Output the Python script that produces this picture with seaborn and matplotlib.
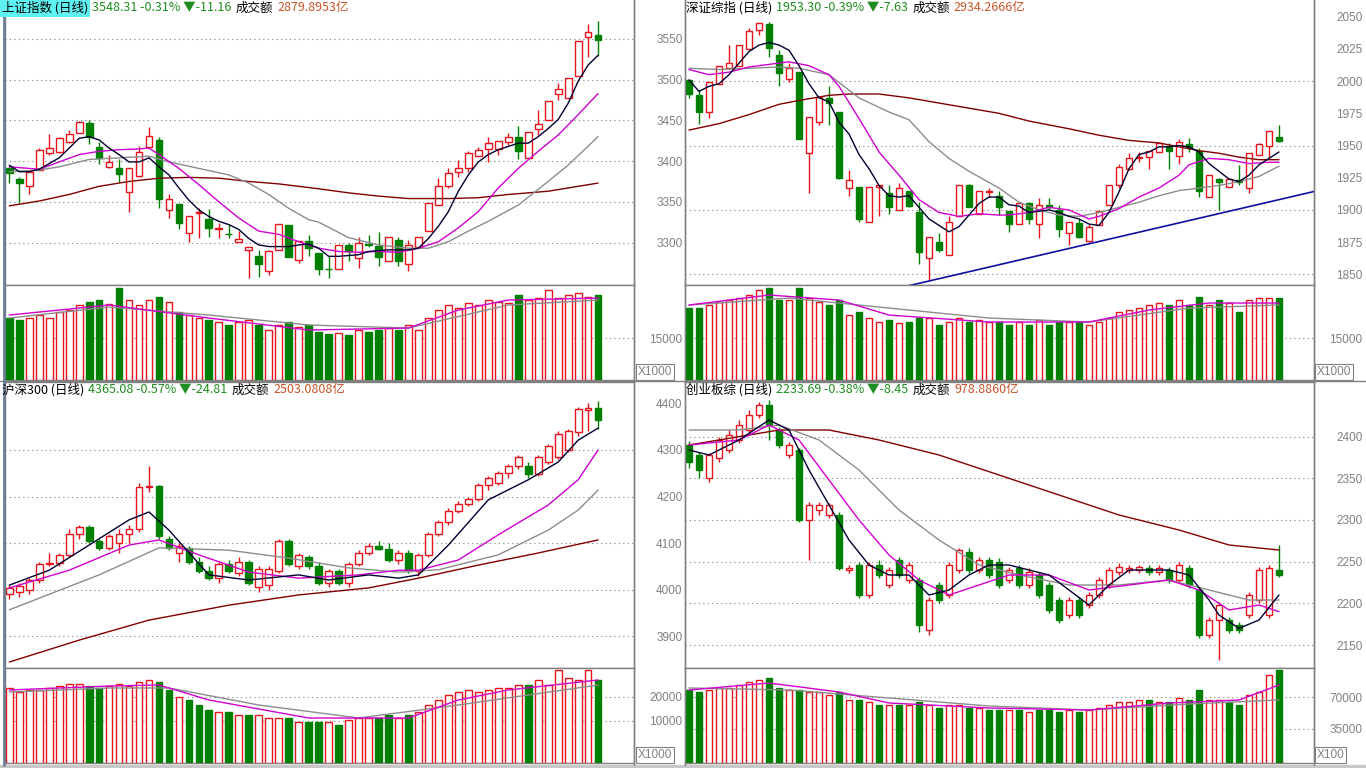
import matplotlib
matplotlib.use('Agg')
import matplotlib.pyplot as plt
import seaborn as sns
from matplotlib.lines import Line2D
from matplotlib.patches import Rectangle

sns.set_style('white')
plt.rcParams['font.family'] = ['Noto Sans CJK SC', 'DejaVu Sans']
plt.rcParams['axes.unicode_minus'] = False

W, H = 1366, 768
RED = '#E8141C'
GREEN = '#008000'
GRAY = '#808080'

# ---------------- 上证指数 ----------------  (open, high, low, close)
sh_ohlc = [
    (3391, 3393, 3373, 3385), (3378, 3381, 3348, 3373), (3369, 3389, 3359, 3387), (3389, 3416, 3389, 3414),
    (3410, 3433, 3408, 3416), (3411, 3430, 3410, 3428), (3423, 3438, 3422, 3433), (3435, 3449, 3435, 3448),
    (3447, 3451, 3421, 3430), (3417, 3423, 3397, 3404), (3393, 3408, 3391, 3399), (3392, 3403, 3374, 3384),
    (3362, 3392, 3338, 3392), (3382, 3418, 3381, 3411), (3417, 3442, 3416, 3431), (3426, 3429, 3343, 3353),
    (3340, 3359, 3330, 3353), (3347, 3347, 3316, 3324), (3312, 3333, 3301, 3333), (3336, 3342, 3306, 3337),
    (3329, 3341, 3307, 3318), (3316, 3324, 3305, 3318), (3311, 3323, 3306, 3310), (3301, 3314, 3301, 3304),
    (3291, 3294, 3256, 3294), (3284, 3291, 3258, 3273), (3265, 3291, 3260, 3290), (3291, 3323, 3291, 3323),
    (3321, 3321, 3282, 3282), (3279, 3302, 3275, 3302), (3302, 3309, 3284, 3293), (3287, 3287, 3260, 3267),
    (3268, 3283, 3256, 3267), (3267, 3297, 3267, 3297), (3297, 3300, 3277, 3289), (3281, 3307, 3269, 3300),
    (3298, 3309, 3295, 3297), (3296, 3313, 3271, 3282), (3277, 3307, 3277, 3307), (3303, 3307, 3271, 3277),
    (3273, 3303, 3265, 3297), (3294, 3307, 3294, 3307), (3314, 3348, 3314, 3348), (3346, 3379, 3346, 3369),
    (3370, 3391, 3367, 3385), (3386, 3401, 3381, 3391), (3391, 3413, 3386, 3410), (3406, 3417, 3406, 3414),
    (3415, 3429, 3399, 3422), (3415, 3425, 3408, 3425), (3424, 3435, 3420, 3429), (3429, 3443, 3403, 3412),
    (3404, 3436, 3404, 3436), (3439, 3463, 3432, 3445), (3450, 3474, 3450, 3474), (3482, 3496, 3475, 3488),
    (3477, 3502, 3477, 3502), (3504, 3547, 3504, 3547), (3553, 3568, 3528, 3559), (3555, 3572, 3529, 3548.31),
]
sh_vol = [22130, 21420, 22130, 23200, 22130, 24280, 24990, 26780, 27850, 28560, 27130, 32850,
          28560, 26780, 28560, 29640, 27850, 24280, 23200, 22130, 21420, 20700, 19640, 20700,
          21420, 19640, 17850, 19640, 20700, 18920, 19640, 17140, 16420, 16780, 16070, 17850,
          17140, 17850, 18560, 17850, 19640, 17850, 22130, 24990, 26780, 25700, 27490, 26780,
          28560, 27850, 27490, 30350, 28560, 29270, 32130, 29270, 30350, 31060, 29640, 30350]
sh_ma5 = list(enumerate([3395, 3387, 3387, 3390, 3397, 3404, 3416, 3428, 3430, 3426, 3416, 3408,
                         3399, 3399, 3404, 3393, 3383, 3367, 3352, 3340, 3332, 3326, 3322, 3316,
                         3305, 3297, 3295, 3295, 3295, 3297, 3298, 3293, 3283, 3283, 3284, 3285,
                         3289, 3290, 3291, 3291, 3291, 3293, 3305, 3320, 3338, 3363, 3383, 3399,
                         3408, 3414, 3418, 3422, 3422, 3430, 3440, 3451, 3471, 3498, 3518, 3530]))
sh_ma10 = [(0, 3393), (3, 3390), (5, 3399), (7, 3408), (9, 3412), (11, 3414), (13, 3415), (14, 3416),
           (15, 3408), (17, 3391), (19, 3371), (21, 3350), (23, 3330), (25, 3314), (27, 3310), (29, 3301),
           (31, 3293), (33, 3289), (35, 3288), (37, 3289), (39, 3288), (41, 3293), (43, 3301), (45, 3318),
           (47, 3338), (49, 3367), (51, 3391), (53, 3412), (55, 3432), (57, 3457), (59, 3483)]
sh_ma20 = [(0, 3387), (3, 3389), (5, 3393), (8, 3402), (11, 3404), (14, 3406), (16, 3399), (19, 3391),
           (22, 3383), (24, 3373), (26, 3359), (28, 3342), (30, 3328), (31, 3325), (34, 3306), (37, 3297),
           (40, 3293), (42, 3293), (44, 3301), (46, 3314), (48, 3326), (51, 3346), (54, 3375), (56, 3395),
           (59, 3430)]
sh_ma60 = [(0, 3345), (3, 3351), (6, 3359), (9, 3369), (12, 3375), (15, 3379), (18, 3380), (21, 3379),
           (24, 3375), (27, 3372), (31, 3366), (34, 3361), (37, 3357), (40, 3354), (44, 3354), (47, 3355),
           (50, 3359), (54, 3363), (57, 3369), (59, 3373)]
sh_vma5 = [(0, 23200), (10, 26780), (20, 22130), (30, 17850), (40, 18560), (45, 24990), (50, 28560), (59, 29270)]
sh_vma10 = [(0, 22130), (10, 26060), (20, 23200), (30, 19640), (40, 18560), (50, 26780), (59, 28560)]

# ---------------- 深证综指 ----------------
sz_ohlc = [
    (2001, 2001, 1987, 1990), (1989, 1993, 1967, 1976), (1976, 1999, 1971, 1999), (1998, 2012, 1998, 2012),
    (2010, 2028, 2010, 2014), (2012, 2028, 2012, 2028), (2025, 2041, 2025, 2039), (2040, 2045, 2036, 2045),
    (2044, 2046, 2019, 2026), (2020, 2024, 1996, 2006), (2002, 2014, 1999, 2010), (2007, 2007, 1955, 1955),
    (1944, 1972, 1913, 1972), (1968, 1988, 1966, 1988), (1987, 1996, 1966, 1983), (1976, 1976, 1924, 1925),
    (1917, 1931, 1911, 1923), (1918, 1918, 1891, 1893), (1891, 1918, 1891, 1918), (1918, 1919, 1895, 1919),
    (1913, 1919, 1897, 1902), (1900, 1921, 1900, 1917), (1915, 1915, 1902, 1903), (1898, 1906, 1858, 1867),
    (1863, 1879, 1845, 1879), (1875, 1882, 1867, 1869), (1865, 1895, 1865, 1891), (1895, 1919, 1895, 1919),
    (1919, 1920, 1902, 1902), (1897, 1915, 1897, 1915), (1914, 1917, 1910, 1915), (1911, 1915, 1896, 1902),
    (1899, 1899, 1883, 1889), (1889, 1905, 1889, 1905), (1905, 1906, 1889, 1893), (1889, 1909, 1878, 1904),
    (1904, 1909, 1901, 1902), (1900, 1904, 1879, 1885), (1882, 1891, 1873, 1891), (1890, 1893, 1878, 1879),
    (1876, 1889, 1875, 1887), (1888, 1899, 1888, 1899), (1904, 1919, 1904, 1919), (1919, 1936, 1917, 1933),
    (1932, 1944, 1931, 1940), (1940, 1945, 1937, 1941), (1941, 1946, 1932, 1946), (1945, 1952, 1945, 1952),
    (1950, 1952, 1932, 1946), (1942, 1955, 1936, 1953), (1951, 1956, 1945, 1949), (1946, 1948, 1910, 1915),
    (1910, 1927, 1910, 1927), (1924, 1925, 1900, 1922), (1918, 1925, 1918, 1924), (1923, 1935, 1919, 1922),
    (1917, 1944, 1913, 1944), (1943, 1952, 1943, 1951), (1950, 1961, 1940, 1961), (1957, 1966, 1953, 1953.30),
]
sz_vol = [25700, 25700, 26780, 27850, 28560, 29270, 30350, 32130, 32850, 28560, 28560, 32850,
          29270, 27850, 26780, 28560, 23200, 24280, 22130, 20700, 21420, 20350, 20700, 22130,
          22130, 19640, 20700, 22130, 20700, 21420, 20700, 20700, 19640, 20700, 19640, 21420,
          19640, 20700, 20700, 20700, 19640, 20700, 22130, 24280, 24990, 25700, 26780, 27490,
          26780, 28560, 26780, 29640, 26780, 28560, 27490, 24280, 28560, 29270, 29270, 29270]
sz_ma5 = list(enumerate([2001, 1992, 1996, 1998, 2005, 2014, 2023, 2028, 2030, 2028, 2024, 2012,
                         1998, 1987, 1984, 1968, 1959, 1943, 1932, 1919, 1911, 1910, 1911, 1902,
                         1893, 1888, 1883, 1887, 1896, 1905, 1910, 1910, 1904, 1903, 1898, 1899,
                         1900, 1898, 1895, 1893, 1889, 1888, 1898, 1914, 1932, 1943, 1945, 1949,
                         1949, 1950, 1949, 1945, 1936, 1930, 1924, 1922, 1927, 1935, 1940, 1945]))
sz_ma10 = [(0, 2009), (2, 2005), (4, 2007), (6, 2011), (8, 2013), (10, 2015), (12, 2012), (14, 2005),
           (15, 1996), (17, 1971), (19, 1945), (21, 1927), (23, 1908), (25, 1898), (27, 1895), (29, 1897),
           (31, 1896), (32, 1896), (34, 1898), (36, 1902), (38, 1900), (40, 1893), (41, 1895), (43, 1901),
           (45, 1910), (47, 1917), (49, 1927), (50, 1935), (52, 1940), (54, 1939), (56, 1936), (58, 1937),
           (59, 1937)]
sz_ma20 = [(0, 2010), (3, 2009), (6, 2010), (9, 2011), (11, 2010), (14, 2005), (17, 1987), (20, 1976),
           (22, 1970), (24, 1953), (26, 1940), (28, 1930), (31, 1917), (33, 1906), (35, 1900), (37, 1896),
           (39, 1895), (41, 1898), (43, 1902), (45, 1906), (47, 1911), (49, 1915), (51, 1917), (53, 1919),
           (55, 1922), (57, 1926), (59, 1934)]
sz_ma60 = [(0, 1962), (3, 1967), (6, 1974), (9, 1982), (11, 1985), (14, 1989), (16, 1990), (19, 1990),
           (22, 1987), (25, 1983), (28, 1979), (31, 1975), (34, 1969), (38, 1963), (41, 1958), (44, 1954),
           (47, 1952), (49, 1949), (51, 1946), (53, 1944), (55, 1941), (57, 1939), (59, 1939)]
sz_trend = [(21.9, 1841), (62.5, 1914.3)]
sz_vma5 = [(0, 26780), (8, 30350), (15, 28560), (20, 23200), (30, 20700), (40, 20700), (46, 24990), (52, 27490), (59, 27490)]
sz_vma10 = [(0, 26780), (10, 29270), (20, 25700), (30, 22130), (40, 20700), (50, 25700), (59, 26780)]

# ---------------- 沪深300 ----------------
hs_ohlc = [
    (3990, 4010, 3980, 4004), (3995, 4015, 3985, 4008), (4000, 4025, 3990, 4020), (4020, 4060, 4015, 4055),
    (4055, 4080, 4050, 4058), (4058, 4080, 4050, 4075), (4075, 4130, 4070, 4120), (4120, 4140, 4110, 4135),
    (4135, 4140, 4100, 4105), (4105, 4110, 4085, 4090), (4090, 4120, 4085, 4115), (4100, 4130, 4080, 4120),
    (4120, 4140, 4100, 4130), (4130, 4230, 4125, 4220), (4220, 4265, 4210, 4222), (4222, 4225, 4110, 4115),
    (4110, 4115, 4085, 4090), (4080, 4100, 4060, 4095), (4090, 4095, 4055, 4060), (4060, 4070, 4035, 4040),
    (4040, 4050, 4020, 4025), (4025, 4060, 4015, 4055), (4055, 4065, 4035, 4040), (4035, 4070, 4030, 4060),
    (4060, 4065, 4010, 4015), (4005, 4050, 3995, 4045), (4010, 4050, 4000, 4045), (4040, 4110, 4035, 4105),
    (4105, 4110, 4050, 4055), (4050, 4080, 4045, 4075), (4070, 4075, 4045, 4050), (4050, 4060, 4010, 4015),
    (4015, 4045, 4005, 4040), (4040, 4045, 4010, 4015), (4015, 4060, 4005, 4055), (4055, 4085, 4050, 4080),
    (4080, 4100, 4075, 4095), (4095, 4105, 4085, 4088), (4088, 4100, 4060, 4065), (4065, 4085, 4055, 4080),
    (4080, 4085, 4035, 4040), (4040, 4080, 4030, 4075), (4075, 4125, 4070, 4120), (4120, 4150, 4115, 4145),
    (4145, 4175, 4140, 4170), (4170, 4190, 4165, 4185), (4185, 4200, 4180, 4195), (4195, 4230, 4190, 4225),
    (4225, 4245, 4215, 4240), (4230, 4255, 4225, 4250), (4250, 4270, 4240, 4265), (4265, 4290, 4260, 4285),
    (4265, 4275, 4240, 4248), (4248, 4290, 4245, 4285), (4275, 4312, 4270, 4308), (4285, 4340, 4280, 4335),
    (4300, 4345, 4295, 4340), (4338, 4392, 4330, 4388), (4385, 4400, 4340, 4390), (4390, 4405, 4345, 4365.08),
]
hs_vol = [23750, 22080, 22920, 22920, 23750, 24580, 25420, 25420, 24580, 23750, 24580, 25420,
          24580, 26250, 27080, 26250, 22920, 20000, 18750, 16670, 14580, 13750, 13750, 12500,
          12500, 12500, 11250, 11250, 11250, 9580, 9580, 9580, 9580, 8330, 10420, 11250,
          11250, 11250, 12500, 11250, 12500, 13750, 16670, 18750, 20830, 22080, 22920, 22080,
          22920, 23750, 23750, 25000, 25000, 27080, 25000, 31250, 27920, 27080, 31250, 27080]
hs_ma5 = [(0, 4010), (4, 4042), (8, 4096), (12, 4150), (14, 4167), (16, 4128), (20, 4032), (24, 4021),
          (29, 4032), (32, 4021), (36, 4032), (39, 4025), (41, 4032), (44, 4096), (48, 4193), (52, 4236),
          (55, 4274), (57, 4321), (59, 4347)]
hs_ma10 = [(0, 4004), (6, 4042), (12, 4096), (15, 4107), (19, 4075), (24, 4038), (29, 4025), (35, 4032),
           (39, 4042), (41, 4042), (45, 4064), (49, 4118), (54, 4182), (57, 4236), (59, 4300)]
hs_ma20 = [(0, 3957), (9, 4032), (15, 4090), (22, 4085), (28, 4068), (34, 4047), (39, 4038), (43, 4043),
           (49, 4075), (54, 4128), (57, 4171), (59, 4214)]
hs_ma60 = [(0, 3845), (7, 3892), (14, 3935), (22, 3967), (29, 3989), (36, 4004), (41, 4025), (47, 4053),
           (53, 4079), (59, 4107)]
hs_vma5 = [(0, 22920), (10, 24580), (15, 25000), (20, 18750), (30, 11250), (40, 11250), (45, 18750), (50, 22920), (59, 27080)]
hs_vma10 = [(0, 22080), (10, 23750), (16, 23750), (25, 16670), (35, 11250), (45, 16670), (59, 25000)]

# ---------------- 创业板综 ----------------
cy_ohlc = [
    (2390, 2395, 2362, 2370), (2378, 2382, 2350, 2360), (2350, 2380, 2346, 2378), (2374, 2400, 2370, 2396),
    (2384, 2408, 2380, 2402), (2396, 2420, 2392, 2414), (2408, 2432, 2404, 2426), (2426, 2442, 2422, 2438),
    (2438, 2444, 2396, 2414), (2408, 2412, 2386, 2390), (2378, 2394, 2374, 2390), (2384, 2386, 2298, 2300),
    (2300, 2322, 2252, 2318), (2312, 2322, 2306, 2318), (2306, 2320, 2302, 2318), (2306, 2310, 2240, 2242),
    (2240, 2246, 2236, 2242), (2246, 2250, 2206, 2210), (2210, 2250, 2206, 2246), (2246, 2252, 2230, 2234),
    (2222, 2244, 2218, 2240), (2252, 2256, 2230, 2234), (2228, 2250, 2224, 2246), (2228, 2232, 2166, 2174),
    (2168, 2208, 2162, 2204), (2222, 2226, 2200, 2204), (2210, 2250, 2206, 2246), (2240, 2266, 2236, 2264),
    (2262, 2266, 2236, 2240), (2240, 2256, 2236, 2252), (2252, 2256, 2230, 2234), (2250, 2254, 2218, 2222),
    (2228, 2244, 2224, 2240), (2242, 2246, 2218, 2222), (2222, 2242, 2218, 2238), (2234, 2238, 2206, 2210),
    (2222, 2226, 2188, 2192), (2204, 2208, 2176, 2180), (2186, 2208, 2182, 2204), (2204, 2208, 2182, 2186),
    (2198, 2214, 2194, 2210), (2210, 2232, 2206, 2228), (2222, 2244, 2218, 2240), (2238, 2248, 2234, 2244),
    (2240, 2246, 2236, 2242), (2240, 2246, 2236, 2244), (2242, 2246, 2234, 2238), (2238, 2246, 2234, 2242),
    (2240, 2244, 2224, 2228), (2228, 2250, 2224, 2246), (2242, 2246, 2218, 2222), (2216, 2220, 2158, 2162),
    (2162, 2184, 2158, 2180), (2180, 2202, 2132, 2198), (2180, 2184, 2164, 2168), (2174, 2178, 2164, 2168),
    (2186, 2214, 2182, 2210), (2204, 2244, 2200, 2240), (2186, 2246, 2182, 2242), (2240, 2270, 2232, 2233.69),
]
cy_vol = [77660, 75470, 77660, 79840, 79840, 83130, 86410, 88590, 90780, 79840, 77660, 77660,
          75470, 75470, 72190, 75470, 66720, 66720, 64530, 61250, 61250, 61250, 61250, 64530,
          61250, 57970, 61250, 61250, 57970, 57970, 55780, 55780, 55780, 55780, 53590, 55780,
          55780, 53590, 55780, 53590, 55780, 57970, 61250, 64530, 64530, 66720, 66720, 64530,
          64530, 68910, 66720, 77660, 66720, 66720, 64530, 61250, 72190, 75470, 94060, 99530]
cy_ma5 = [(0, 2384), (2, 2378), (5, 2396), (8, 2420), (10, 2408), (12, 2360), (14, 2318), (16, 2276),
          (18, 2246), (20, 2234), (22, 2234), (24, 2210), (26, 2216), (28, 2234), (30, 2246), (32, 2246),
          (34, 2240), (36, 2234), (38, 2216), (40, 2198), (42, 2222), (44, 2240), (46, 2240), (48, 2240),
          (50, 2234), (52, 2204), (53, 2186), (55, 2170), (57, 2180), (59, 2210)]
cy_ma10 = [(0, 2390), (5, 2396), (8, 2414), (11, 2396), (14, 2348), (17, 2300), (20, 2258), (23, 2228),
           (26, 2210), (29, 2222), (32, 2234), (36, 2234), (40, 2216), (44, 2222), (48, 2228), (51, 2216),
           (54, 2192), (57, 2198), (59, 2190)]
cy_ma20 = [(0, 2408), (5, 2408), (9, 2414), (13, 2396), (17, 2360), (21, 2312), (25, 2276), (29, 2246),
           (33, 2234), (38, 2222), (43, 2222), (48, 2228), (52, 2216), (56, 2204), (59, 2204)]
cy_ma60 = [(0, 2390), (4, 2398), (9, 2408), (14, 2408), (19, 2396), (25, 2378), (31, 2354), (37, 2330),
           (43, 2306), (49, 2288), (54, 2270), (59, 2264)]
cy_vma5 = [(0, 77660), (8, 85310), (15, 75470), (20, 63440), (30, 57970), (40, 55780), (48, 63440), (55, 66720), (59, 83130)]
cy_vma10 = [(0, 79840), (10, 77660), (20, 68910), (30, 60160), (40, 55780), (50, 62340), (59, 66720)]

# header texts
sh_head = ['上证指数 (日线)', '3548.31 -0.31% ▼-11.16', '成交额', '2879.8953亿']
sz_head = ['深证综指 (日线)', '1953.30 -0.39% ▼-7.63', '成交额', '2934.2666亿']
hs_head = ['沪深300 (日线)', '4365.08 -0.57% ▼-24.81', '成交额', '2503.0808亿']
cy_head = ['创业板综 (日线)', '2233.69 -0.38% ▼-8.45', '成交额', '978.8860亿']

fig = plt.figure(figsize=(W / 100, H / 100), dpi=100, facecolor='white')


def rect(x0, y0, x1, y1):
    return [x0 / W, 1 - y1 / H, (x1 - x0) / W, (y1 - y0) / H]


def style_axis(ax, xlim, ylim, ticks, grid):
    ax.set_facecolor('white')
    ax.set_xlim(*xlim)
    ax.set_ylim(*ylim)
    ax.set_xticks([])
    ax.yaxis.tick_right()
    ax.set_yticks(ticks, [str(t) for t in ticks])
    ax.tick_params(axis='y', length=0, pad=35, labelsize=8.5, labelcolor=GRAY)
    plt.setp(ax.get_yticklabels(), ha='right', family=['Liberation Sans', 'DejaVu Sans'])
    for g in grid:
        ax.axhline(g, color=GRAY, lw=0.8, ls=(0, (1, 3)), zorder=1)
    for s in ax.spines.values():
        s.set_color(GRAY)
        s.set_linewidth(1)


def candles(ax, ohlc):
    for i, (o, h, l, c) in enumerate(ohlc):
        up = c >= o
        col = RED if up else GREEN
        ax.vlines(i, l, h, color=col, lw=1, zorder=2)
        ax.bar(i, max(abs(c - o), 0.01), bottom=min(o, c), width=0.68,
               facecolor='white' if up else GREEN, edgecolor=col, lw=1, zorder=3)


def volumes(ax, vol, ohlc, base):
    for i, v in enumerate(vol):
        up = ohlc[i][3] >= ohlc[i][0]
        col = RED if up else GREEN
        ax.bar(i, v - base, bottom=base, width=0.68,
               facecolor='white' if up else GREEN, edgecolor=col, lw=1, zorder=3)


def ma(ax, pts, color):
    sns.lineplot(x=[p[0] for p in pts], y=[p[1] for p in pts], ax=ax,
                 color=color, lw=1, zorder=4, estimator=None)


def header(x, y, parts, highlight=False):
    r = fig.canvas.get_renderer()
    cols = ['black', '#1E8C1E', 'black', '#C8552A']
    for k, (txt, col) in enumerate(zip(parts, cols)):
        kw = {}
        if k == 0 and highlight:
            kw['bbox'] = dict(facecolor='#5EF2F2', edgecolor='none', pad=1.5)
        t = fig.text(x / W, 1 - y / H, txt, color=col, fontsize=9, va='center', ha='left', **kw)
        x += t.get_window_extent(r).width + 4


def xbox(x, y, txt):
    fig.text(x / W, 1 - y / H, txt, fontsize=8.5, color=GRAY, va='center', ha='left',
             family=['Liberation Sans', 'DejaVu Sans'],
             bbox=dict(facecolor='white', edgecolor=GRAY, pad=1.2, lw=0.8))


panels = [
    # ohlc, vol, ma5, ma10, ma20, ma60, vma5, vma10, x0, x1, ytop, ysplit, ybot, price lim, ticks, grid, vol lim, vol ticks, xlim
    (sh_ohlc, sh_vol, sh_ma5, sh_ma10, sh_ma20, sh_ma60, sh_vma5, sh_vma10, 5, 634, 0, 285, 380,
     (3247.8, 3597.9), [3300, 3350, 3400, 3450, 3500, 3550], [3300, 3350, 3400, 3450, 3500, 3550],
     (0, 33930), [15000], (-0.43, 62.6)),
    (sz_ohlc, sz_vol, sz_ma5, sz_ma10, sz_ma20, sz_ma60, sz_vma5, sz_vma10, 685, 1314, 0, 285, 380,
     (1841.7, 2063), [1850, 1875, 1900, 1925, 1950, 1975, 2000, 2025, 2050], [1850, 1900, 1950, 2000],
     (0, 33930), [15000], (-0.4, 62.5)),
    (hs_ohlc, hs_vol, hs_ma5, hs_ma10, hs_ma20, hs_ma60, hs_vma5, hs_vma10, 5, 634, 382, 668, 763,
     (3832.2, 4445.9), [3900, 4000, 4100, 4200, 4300, 4400], [3900, 4000, 4100, 4200, 4300],
     (-7500, 32083), [10000, 20000], (-0.43, 62.6)),
    (cy_ohlc, cy_vol, cy_ma5, cy_ma10, cy_ma20, cy_ma60, cy_vma5, cy_vma10, 685, 1314, 382, 668, 763,
     (2122.4, 2465.6), [2150, 2200, 2250, 2300, 2350, 2400], [2150, 2200, 2250, 2300, 2350, 2400],
     (-2188, 101719), [35000, 70000], (-0.4, 62.5)),
]

price_axes = []
for (ohlc, vol, m5, m10, m20, m60, v5, v10, x0, x1, yt, ys, yb,
     plim, pticks, pgrid, vlim, vticks, xlim) in panels:
    axp = fig.add_axes(rect(x0, yt, x1, ys))
    style_axis(axp, xlim, plim, pticks, pgrid)
    candles(axp, ohlc)
    ma(axp, m60, '#800000')
    ma(axp, m20, '#8C8C8C')
    ma(axp, m10, '#D000D0')
    ma(axp, m5, '#000033')
    if yt == 0:
        axp.spines['top'].set_visible(False)
    price_axes.append(axp)

    axv = fig.add_axes(rect(x0, ys, x1, yb))
    style_axis(axv, xlim, vlim, vticks, vticks)
    volumes(axv, vol, ohlc, vlim[0])
    ma(axv, v10, '#8C8C8C')
    ma(axv, v5, '#D000D0')

# trend line on 深证综指
ax_sz = price_axes[1]
ax_sz.plot([p[0] for p in sz_trend], [p[1] for p in sz_trend], color='#1010A0', lw=1.2, zorder=5)

# frame lines
for x in (634, 685, 1314):
    fig.add_artist(Line2D([x / W, x / W], [1 - 765 / H, 1], color=GRAY, lw=1))
fig.add_artist(Line2D([0, 1], [1 - 381 / H, 1 - 381 / H], color=GRAY, lw=1))
fig.add_artist(Line2D([4 / W, 4 / W], [1 - 765 / H, 1], color='#6A7F95', lw=2))
fig.add_artist(Rectangle((0, 0), 1, 3 / H, transform=fig.transFigure, color='#C8C8C8'))

header(2, 8, sh_head, highlight=True)
header(686, 8, sz_head)
header(2, 390, hs_head)
header(686, 390, cy_head)

xbox(638, 372, 'X1000')
xbox(1317, 372, 'X1000')
xbox(638, 755, 'X1000')
xbox(1317, 755, 'X100')

fig.savefig('out.png', dpi=100, facecolor='white')
